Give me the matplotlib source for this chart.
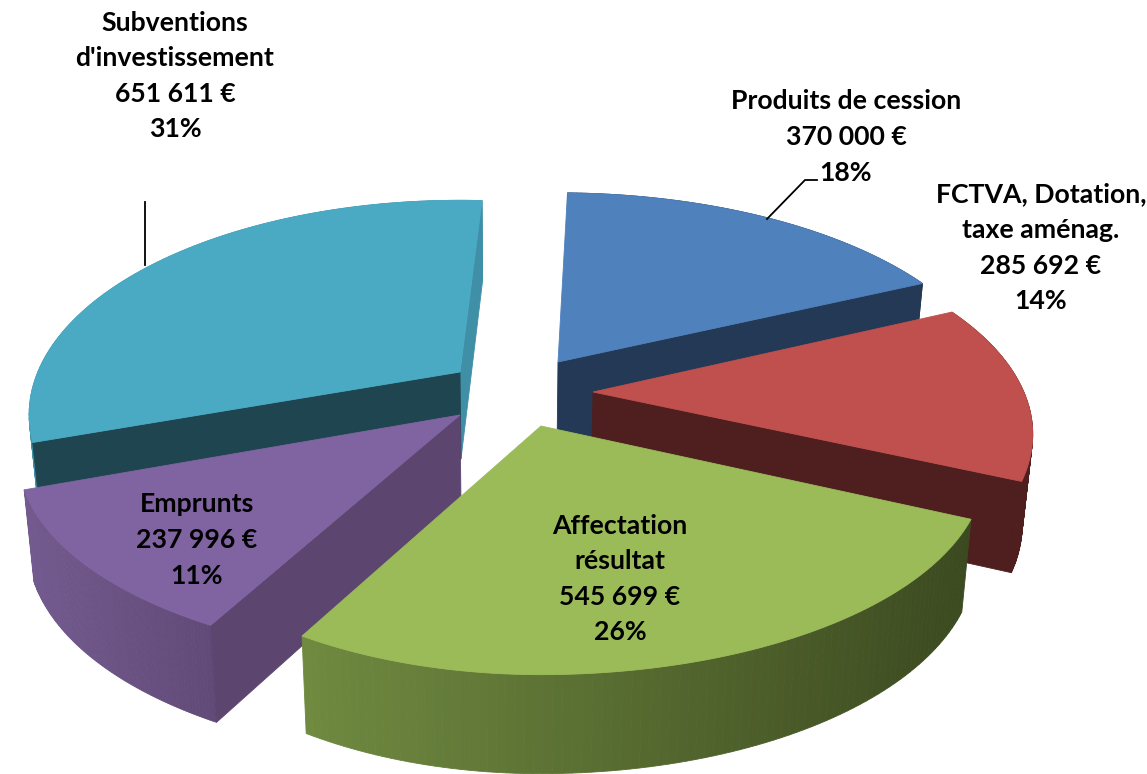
import numpy as np
import matplotlib.pyplot as plt
from matplotlib.colors import to_rgb

# slices, clockwise from the top
names = ["Produits de cession", "FCTVA, Dotation,\ntaxe aménag.", "Affectation\nrésultat", "Emprunts", "Subventions\nd'investissement"]
values = [370000, 285692, 545699, 237996, 651611]

top_colors = ["#4f81bd", "#c0504d", "#9bbb59", "#8064a2", "#4aaac4"]
wall_colors = ["#233955", "#4f1f1f", "#3d4a20", "#5c4670", "#1f4650"]
rim_left = ["#233955", "#4f1f1f", "#708a40", "#735a8f", "#3f8fa6"]
rim_right = ["#233955", "#4f1f1f", "#3c4a20", "#614a77", "#3f8fa6"]
apex = [(558, 362), (593, 392), (541, 426), (460, 415), (460, 372)]
label_pos = [(846, 137), (1041, 248), (620, 579), (197, 540), (175, 76)]

# small per-slice corrections of the projection
rot_fit = [1.5, 1.0, 2.5, 1.5, 3.5]
left_fit = [1, 1, 0.93, 1, 0.975]
right_fit = [1.005, 0.995, 1.005, 1, 1]
ry_fit = [1, 1, 0.98, 0.97, 1.015]

RX, RY, PERSP = 433, 203, 0.2


def project(ang, i):
    # disc point at a clockwise angle (deg from top) to pixels, far side smaller
    cx, cy = apex[i]
    t = np.radians(np.asarray(ang) + rot_fit[i])
    s = 1 / (1 + PERSP * np.cos(t))
    dx = RX * np.sin(t) * s
    dx = np.where(dx < 0, dx * left_fit[i], dx * right_fit[i])
    return cx + dx, cy - RY * ry_fit[i] * np.cos(t) * s


def drop(x, y):
    # bottom edge of the pie below a top point
    return x + (510 - x) * 0.02, y + 72 + 0.04 * y


def quad(ax, x0, y0, x1, y1, color):
    bx0, by0 = drop(x0, y0)
    bx1, by1 = drop(x1, y1)
    ax.fill([x0, x1, bx1, bx0], [y0, y1, by1, by0], color=color, lw=0.6)


def arc_rim(ax, xs, ys, i):
    c0, c1 = np.array(to_rgb(rim_left[i])), np.array(to_rgb(rim_right[i]))
    lo, hi = xs.min(), xs.max()
    for j in range(len(xs) - 1):
        f = ((xs[j] + xs[j + 1]) / 2 - lo) / (hi - lo)
        quad(ax, xs[j], ys[j], xs[j + 1], ys[j + 1], tuple(c0 + (c1 - c0) * f))


fig = plt.figure(figsize=(11.47, 7.74), dpi=100)
ax = fig.add_axes([0, 0, 1, 1])
ax.set_xlim(0, 1147)
ax.set_ylim(774, 0)
ax.axis("off")

total = sum(values)
edges = np.cumsum([0] + values) / total * 360

# far slices first so the near ones cover them
for i in [4, 0, 1, 3, 2]:
    cx, cy = apex[i]
    ang = np.linspace(edges[i], edges[i + 1], 90)
    xs, ys = project(ang, i)
    arc_rim(ax, xs, ys, i)
    if i in (0, 1):
        quad(ax, cx, cy, xs[-1], ys[-1], wall_colors[i])
    if i == 3:
        quad(ax, cx, cy, xs[0], ys[0], wall_colors[i])
    if i == 4:
        quad(ax, cx, cy, xs[-1], ys[-1], "#3f8fa6")
        quad(ax, cx, cy, xs[0], ys[0], wall_colors[i])
    ax.fill(np.r_[cx, xs], np.r_[cy, ys], color=top_colors[i], lw=0.6)

# leader lines
ax.plot([767, 805, 817], [219, 180, 180], color="black", lw=1.3)
ax.plot([145, 145], [265, 202], color="black", lw=1.3)

for name, v, pos in zip(names, values, label_pos):
    amount = f"{v:,}".replace(",", " ") + " €"
    txt = f"{name}\n{amount}\n{round(v / total * 100)}%"
    ax.text(pos[0], pos[1], txt, ha="center", va="center", family="Lato",
            fontweight="bold", fontsize=19.2, linespacing=1.58, color="black")

plt.savefig("out.png", dpi=100)
